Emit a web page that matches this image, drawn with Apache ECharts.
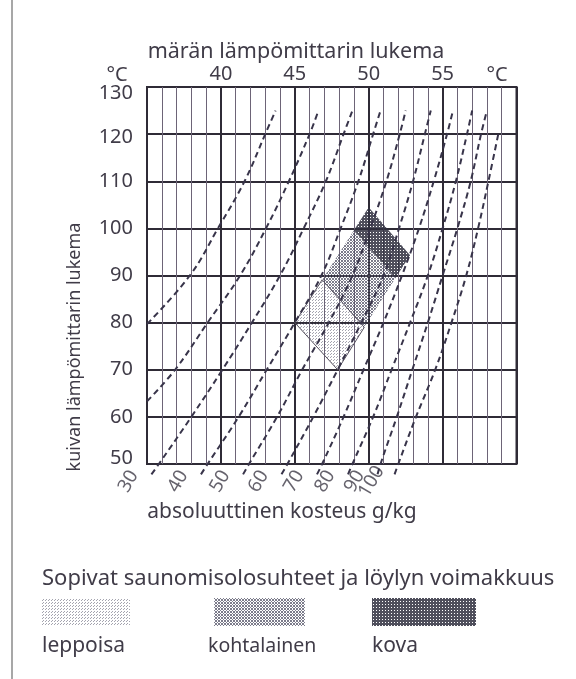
<!DOCTYPE html>
<html>
<head>
<meta charset="utf-8">
<title>Saunomisolosuhteet</title>
<script src="https://cdn.jsdelivr.net/npm/echarts@6/dist/echarts.min.js"></script>
<style>
html,body{margin:0;padding:0;background:#fff;}
#main{width:576px;height:679px;}
</style>
</head>
<body>
<div id="main"></div>
<script>
// märkä lämpömittari (x) ja kuiva lämpömittari (y)
var wetMin = 35, wetMax = 60;
var dryMin = 50, dryMax = 130;
var wetTicks = [40, 45, 50, 55];

// kosteuskäyrät, pisteet [märkä, kuiva]
var humLabels = ['30', '40', '50', '60', '70', '80', '90', '100'];
var lineA = [[35.0,79.7],[37.9,90],[39.8,100],[41.6,110],[43.0,120],[43.7,125]];
var lineB = [[35.0,63.3],[36.9,70],[39.1,80],[41.3,90],[43.05,100],[44.6,110],[46.0,120],[46.6,125]];
var line30 = [[35.3,47.8],[35.8,50],[38.0,60],[40.1,70],[42.1,80],[44.0,90],[45.6,100],[47.1,110],[48.3,120],[48.9,125]];
var line40 = [[38.65,47.8],[39.1,50],[41.2,60],[43.1,70],[45.0,80],[46.8,90],[48.1,100],[49.3,110],[50.3,120],[50.8,125]];
var line50 = [[41.5,47.8],[41.9,50],[43.8,60],[45.5,70],[47.3,80],[48.9,90],[50.1,100],[51.2,110],[52.1,120],[52.5,125]];
var line60 = [[44.1,47.8],[44.5,50],[46.25,60],[47.9,70],[49.5,80],[51.0,90],[52.05,100],[53.0,110],[53.8,120],[54.2,125]];
var line70 = [[46.5,47.8],[46.85,50],[48.3,60],[49.65,70],[51.0,80],[52.25,90],[53.4,100],[54.4,110],[55.3,120],[55.7,125]];
var line80 = [[48.6,47.8],[48.9,50],[50.3,60],[51.55,70],[52.8,80],[54.0,90],[55.0,100],[55.9,110],[56.65,120],[57.0,125]];
var line90 = [[50.6,47.8],[50.8,50],[51.9,60],[52.95,70],[54.0,80],[55.0,90],[56.0,100],[56.9,110],[57.6,120],[58.0,125]];
var line100 = [[51.75,47.8],[52.0,50],[53.2,60],[54.5,70],[55.6,80],[56.6,90],[57.4,100],[58.1,110],[58.8,120.5]];
var labelledLines = [line30, line40, line50, line60, line70, line80, line90, line100];
var allLines = [lineA, lineB].concat(labelledLines);

// löylyalueet
var bandLight = [[45.0,80.0],[47.9,70.0],[49.7,79.0],[46.85,89.1]];
var bandMedium = [[46.85,89.1],[49.7,79.0],[51.8,89.4],[49.0,99.6]];
var bandStrong = [[49.0,99.6],[51.8,89.4],[52.8,94.3],[50.0,104.5]];

var textColor = '#403c48';
var font = '"Noto Sans", sans-serif';

function dots(size, pts, color) {
    var c = document.createElement('canvas');
    c.width = size; c.height = size;
    var g = c.getContext('2d');
    g.fillStyle = color;
    pts.forEach(function (p) { g.fillRect(p[0], p[1], 1, 1); });
    return { image: c, repeat: 'repeat' };
}
var fillLight = dots(3, [[0,0],[1,2]], 'rgba(90,90,110,0.55)');
var fillMedium = dots(3, [[0,0],[1,1],[2,2],[0,2],[2,0]], 'rgba(80,80,100,0.75)');
var fillStrong = dots(3, [[0,0],[1,0],[2,0],[0,1],[2,1],[0,2],[1,2],[2,2]], 'rgba(48,48,64,0.85)');

function band(verts, fill, stroke) {
    return {
        type: 'custom',
        data: verts,
        z: 2,
        silent: true,
        renderItem: function (params, api) {
            if (params.dataIndex !== 0) return null;
            return {
                type: 'polygon',
                shape: { points: verts.map(function (p) { return api.coord(p); }) },
                style: { fill: fill, stroke: stroke || null, lineWidth: 1 }
            };
        }
    };
}

var series = [
    band(bandLight, fillLight, '#55505e'),
    band(bandMedium, fillMedium),
    band(bandStrong, fillStrong)
];
allLines.forEach(function (d) {
    series.push({
        type: 'line',
        data: d,
        smooth: 0.4,
        symbol: 'none',
        clip: false,
        silent: true,
        z: 3,
        lineStyle: { type: [6, 4], width: 2, color: '#38344a' }
    });
});
// offset is turned with the label, so (-17.6,-16.4) ends up about 23px left, 7px down
series.push({
    type: 'scatter',
    data: labelledLines.map(function (l) { return l[0]; }),
    symbolSize: 0,
    clip: false,
    silent: true,
    label: {
        show: true,
        position: 'inside',
        rotate: 60,
        offset: [-17.6, -16.4],
        fontSize: 19,
        fontFamily: font,
        color: textColor,
        formatter: function (p) { return humLabels[p.dataIndex]; }
    }
});

var myChart = echarts.init(document.getElementById('main'));

var option = {
    backgroundColor: '#fff',
    animation: false,
    grid: { left: 147, top: 87, right: 59.5, bottom: 215, show: true, borderColor: '#2f2b36', borderWidth: 2 },
    xAxis: [{
        type: 'value', min: wetMin, max: wetMax, interval: 1,
        axisLine: { show: false }, axisTick: { show: false }, axisLabel: { show: false },
        splitLine: { show: true, lineStyle: { color: '#6d6477', width: 1 } }
    }, {
        type: 'value', position: 'top', min: wetMin, max: wetMax, interval: 5,
        axisLine: { show: false }, axisTick: { show: false },
        axisLabel: {
            margin: 3, fontSize: 20, fontFamily: font, color: textColor,
            formatter: function (v) { return wetTicks.indexOf(v) >= 0 ? String(v) : ''; }
        },
        splitLine: { show: true, lineStyle: { color: '#2f2b36', width: 2 } }
    }],
    yAxis: {
        type: 'value', min: dryMin, max: dryMax, interval: 10,
        axisLine: { show: false }, axisTick: { show: false },
        axisLabel: {
            margin: 14, color: textColor,
            // ääripäiden numerot hieman sisäänpäin
            formatter: function (v) {
                if (v === dryMax) return '{t|' + v + '}';
                if (v === dryMax - 10) return '{s|' + v + '}';
                if (v === dryMin) return '{b|' + v + '}';
                return '{v|' + v + '}';
            },
            rich: {
                v: { fontSize: 20, fontFamily: font, color: textColor },
                s: { fontSize: 20, fontFamily: font, color: textColor, padding: [6, 0, 0, 0] },
                t: { fontSize: 20, fontFamily: font, color: textColor, padding: [12, 0, 0, 0] },
                b: { fontSize: 20, fontFamily: font, color: textColor, padding: [0, 0, 12, 0] }
            }
        },
        splitLine: { show: true, lineStyle: { color: '#2f2b36', width: 1.8 } }
    },
    graphic: [
        { type: 'line', shape: { x1: 12, y1: 0, x2: 12, y2: 679 }, style: { stroke: '#8a8a8a', lineWidth: 1.5 } },
        { type: 'text', x: 296, y: 52, style: { text: 'märän lämpömittarin lukema', fontSize: 21.5, fontFamily: font, fill: textColor, align: 'center', verticalAlign: 'middle' } },
        { type: 'text', x: 117, y: 75, style: { text: '°C', fontSize: 20, fontFamily: font, fill: textColor, align: 'center', verticalAlign: 'middle' } },
        { type: 'text', x: 497, y: 75, style: { text: '°C', fontSize: 20, fontFamily: font, fill: textColor, align: 'center', verticalAlign: 'middle' } },
        { type: 'text', x: 75, y: 347, rotation: Math.PI / 2, style: { text: 'kuivan lämpömittarin lukema', fontSize: 18, fontFamily: font, fill: textColor, align: 'center', verticalAlign: 'middle' } },
        { type: 'text', x: 282, y: 512, style: { text: 'absoluuttinen kosteus g/kg', fontSize: 21, fontFamily: font, fill: textColor, align: 'center', verticalAlign: 'middle' } },
        { type: 'text', x: 42, y: 579, style: { text: 'Sopivat saunomisolosuhteet ja löylyn voimakkuus', fontSize: 22, fontFamily: font, fill: textColor, verticalAlign: 'middle' } },
        { type: 'rect', shape: { x: 42, y: 598, width: 88, height: 28 }, style: { fill: fillLight } },
        { type: 'rect', shape: { x: 214, y: 598, width: 91, height: 28 }, style: { fill: fillMedium } },
        { type: 'rect', shape: { x: 372, y: 598, width: 104, height: 28 }, style: { fill: fillStrong } },
        { type: 'text', x: 42, y: 646, style: { text: 'leppoisa', fontSize: 21, fontFamily: font, fill: textColor, verticalAlign: 'middle' } },
        { type: 'text', x: 208, y: 646, style: { text: 'kohtalainen', fontSize: 19.5, fontFamily: font, fill: textColor, verticalAlign: 'middle' } },
        { type: 'text', x: 372, y: 646, style: { text: 'kova', fontSize: 21, fontFamily: font, fill: textColor, verticalAlign: 'middle' } }
    ],
    series: series
};

myChart.setOption(option);
</script>
</body>
</html>
